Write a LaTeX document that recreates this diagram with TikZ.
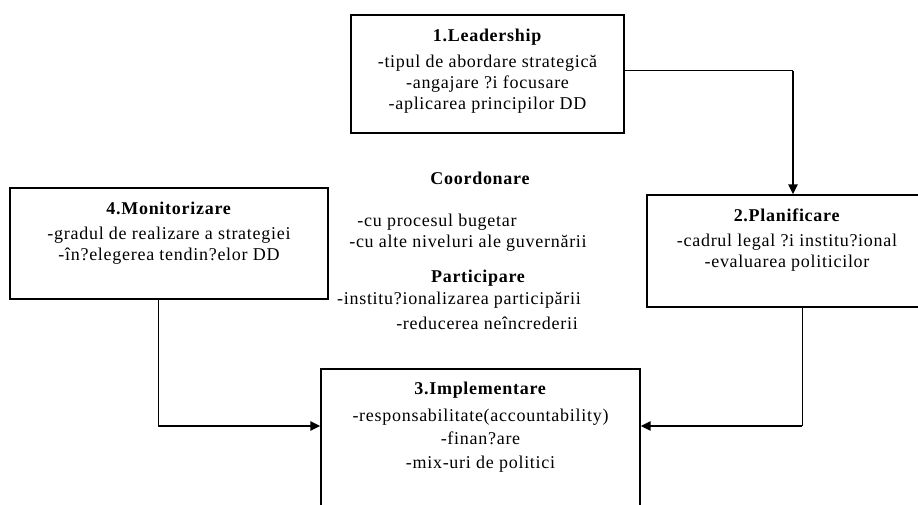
\documentclass[tikz,border=0pt]{standalone}
\usepackage{fontspec}
\setmainfont{Liberation Serif}
\newfontfamily\diagfont[LetterSpace=4]{Liberation Serif}
\usetikzlibrary{positioning}
\usetikzlibrary{arrows.meta}

\begin{document}
\begin{tikzpicture}[x=1pt,y=-1pt]
	\tikzstyle{box}=[draw,line width=1.2pt,rectangle,inner sep=0pt]
	\tikzstyle{boxtext}=[align=center,inner sep=0pt,font=\diagfont\fontsize{18}{21}\selectfont]
	\tikzstyle{label}=[inner sep=0pt,font=\diagfont\fontsize{18}{21}\selectfont]
	\tikzstyle{link}=[draw,line width=1pt]
	\tikzstyle{linkarrow}=[draw,line width=2.6pt,-{Triangle[length=10pt,width=9pt]}]
	\useasboundingbox (0,0) rectangle (918,505);
	\node[box,minimum width=273pt,minimum height=118pt] (lead) at (487.5,74) {};
	\node[box,minimum width=318pt,minimum height=111pt] (mon) at (169,243.5) {};
	\node[box,minimum width=280pt,minimum height=112pt] (plan) at (787,251) {};
	\node[box,minimum width=319pt,minimum height=170pt] (impl) at (480.5,454) {};
	\node[boxtext,below=14pt of lead.north] (leadtxt) {\textbf{1.Leadership}\\[5pt]
		-tipul de abordare strategică\\-angajare ?i focusare\\-aplicarea principilor DD};
	\node[boxtext,below=14pt of mon.north] (montxt) {\textbf{4.Monitorizare}\\[4pt]
		-gradul de realizare a strategiei\\-în?elegerea tendin?elor DD};
	\node[boxtext,below=14pt of plan.north] (plantxt) {\textbf{2.Planificare}\\[4pt]
		-cadrul legal ?i institu?ional\\-evaluarea politicilor};
	\node[boxtext,below=13pt of impl.north] (impltxt) {\textbf{3.Implementare}\\[6pt]
		-responsabilitate(accountability)\\[2pt]-finan?are\\[3pt]-mix-uri de politici};
	\node[label,font=\diagfont\fontsize{18}{21}\selectfont\bfseries] (coord) at (480,178) {Coordonare};
	\node[label] (coorda) at (437,222) {-cu procesul bugetar};
	\node[label] (coordb) at (468,243) {-cu alte niveluri ale guvernării};
	\node[label,font=\diagfont\fontsize{18}{21}\selectfont\bfseries] (part) at (478,278) {Participare};
	\node[label] (parta) at (459,300) {-institu?ionalizarea participării};
	\node[label] (partb) at (487,323) {-reducerea neîncrederii};
	\coordinate (bend1) at (793,71);
	\coordinate (bend2) at (158,426);
	\coordinate (bend3) at (802,426);
	\draw[link] (lead.east |- bend1) -- (bend1);
	\draw[linkarrow] (bend1) -- (bend1 |- plan.north);
	\draw[link] (bend2 |- mon.south) -- (bend2);
	\draw[linkarrow] (bend2) -- (bend2 -| impl.west);
	\draw[link] (bend3 |- plan.south) -- (bend3);
	\draw[linkarrow] (bend3) -- (bend3 -| impl.east);
\end{tikzpicture}
\end{document}
